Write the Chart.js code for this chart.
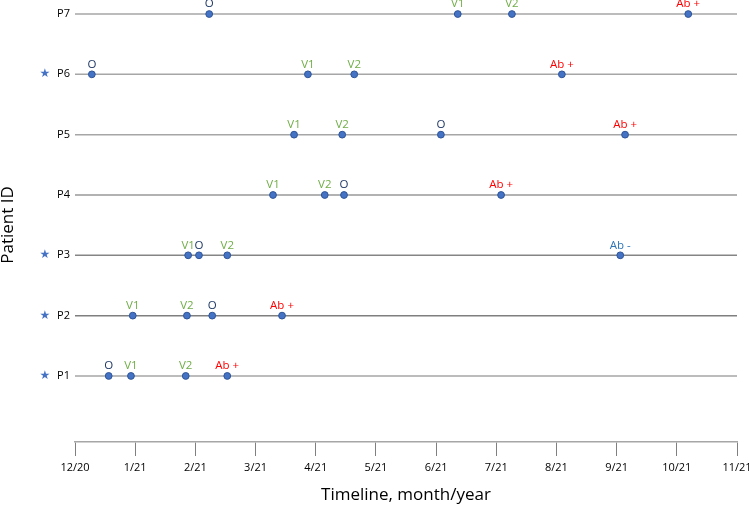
<!DOCTYPE html>
<html>
<head>
<meta charset="utf-8">
<script src="https://cdn.jsdelivr.net/npm/chart.js@4/dist/chart.umd.min.js"></script>
<style>
  html, body { margin: 0; padding: 0; background: #fff; }
  #wrap { width: 749px; height: 506px; }
</style>
</head>
<body>
<div id="wrap"><canvas id="timeline" width="749" height="506"></canvas></div>
<script>
/* ---------- data ---------- */
const patients = ['P1', 'P2', 'P3', 'P4', 'P5', 'P6', 'P7'];
const starred = ['P1', 'P2', 'P3', 'P6'];
const months = ['12/20', '1/21', '2/21', '3/21', '4/21', '5/21', '6/21', '7/21', '8/21', '9/21', '10/21', '11/21'];

// event dates, in months since 12/20 (one entry per patient, P1..P7)
const onsetDate = [0.56, 2.28, 2.06, 4.47, 6.08, 0.28, 2.23];
const vax1Date  = [0.93, 0.96, 1.88, 3.29, 3.64, 3.87, 6.36];
const vax2Date  = [1.84, 1.86, 2.53, 4.15, 4.44, 4.64, 7.26];
const abDate    = [2.53, 3.44, 9.06, 7.08, 9.14, 8.09, 10.19];
const abResult  = ['+', '+', '-', '+', '+', '+', '+'];

/* ---------- styles ---------- */
const rowColors = ['#a6a6a6', '#7f7f7f', '#858585', '#999999', '#a6a6a6', '#a6a6a6', '#a6a6a6'];
const FONT = "'Open Sans', sans-serif";

const rowSets = patients.map((p, i) => ({
  type: 'line',
  label: p,
  data: [{ x: 0, y: i + 1 }, { x: months.length - 1, y: i + 1 }],
  borderColor: rowColors[i],
  borderWidth: 1.5,
  pointRadius: 0,
  clip: false,
  order: 2
}));

function eventSet(name, dates, textColor, labelFn) {
  return {
    type: 'scatter',
    label: name,
    data: dates.map((d, i) => ({ x: d, y: i + 1 })),
    backgroundColor: '#4472c4',
    borderColor: '#2f5597',
    borderWidth: 1,
    pointRadius: 3.4,
    clip: false,
    order: 1,
    textColor,
    labelFn
  };
}

const eventSets = [
  eventSet('O', onsetDate, () => '#1f3864', () => 'O'),
  eventSet('V1', vax1Date, () => '#70ad47', () => 'V1'),
  eventSet('V2', vax2Date, () => '#70ad47', () => 'V2'),
  eventSet('Ab', abDate, i => abResult[i] === '+' ? '#ff0000' : '#2e75b6', i => 'Ab ' + abResult[i])
];

/* ---------- labels above dots + stars ---------- */
const markLabels = {
  id: 'markLabels',
  afterDatasetsDraw(chart) {
    const ctx = chart.ctx;
    ctx.save();
    ctx.font = '11.5px ' + FONT;
    ctx.textAlign = 'center';
    ctx.textBaseline = 'middle';
    chart.data.datasets.forEach((ds, di) => {
      if (!ds.labelFn) return;
      chart.getDatasetMeta(di).data.forEach((el, i) => {
        ctx.fillStyle = ds.textColor(i);
        ctx.fillText(ds.labelFn(i), el.x, el.y - 10);
      });
    });
    // stars in front of the patient ids
    const yScale = chart.scales.y;
    ctx.font = '12px "DejaVu Sans"';
    ctx.fillStyle = '#4472c4';
    patients.forEach((p, i) => {
      if (starred.includes(p)) ctx.fillText('\u2605', 45, yScale.getPixelForValue(i + 1));
    });
    ctx.restore();
  }
};

new Chart(document.getElementById('timeline'), {
  data: { datasets: [...eventSets, ...rowSets] },
  plugins: [markLabels],
  options: {
    responsive: false,
    animation: false,
    layout: { padding: { top: 8, right: 12, left: 0, bottom: 0 } },
    plugins: { legend: { display: false }, tooltip: { enabled: false } },
    scales: {
      x: {
        type: 'linear',
        min: 0,
        max: months.length - 1,
        afterBuildTicks: s => { s.ticks = months.map((m, i) => ({ value: i })); },
        afterFit: s => { s.height = 64; s.paddingRight = 0; s.paddingLeft = 0; },
        ticks: { callback: v => months[v], font: { family: FONT, size: 11 }, color: '#000', padding: 5, maxRotation: 0, autoSkip: false },
        grid: { display: true, drawOnChartArea: false, drawTicks: true, tickLength: 14, color: '#7f7f7f' },
        border: { display: true, color: '#a6a6a6', width: 1.5 },
        title: { display: true, text: 'Timeline, month/year', color: '#000', font: { family: FONT, size: 17 }, padding: { top: 0, bottom: 1 } }
      },
      y: {
        type: 'linear',
        min: -0.095,
        max: 7.1,
        afterBuildTicks: s => { s.ticks = patients.map((p, i) => ({ value: i + 1 })); },
        afterFit: s => { s.width = 75; s.paddingTop = 0; s.paddingBottom = 0; },
        ticks: { callback: v => patients[v - 1], font: { family: FONT, size: 11 }, color: '#000', padding: 5 },
        grid: { display: false, drawTicks: false },
        border: { display: false },
        title: { display: true, text: 'Patient ID', color: '#000', font: { family: FONT, size: 17, lineHeight: 1 }, padding: 0 }
      }
    }
  }
});
</script>
</body>
</html>
